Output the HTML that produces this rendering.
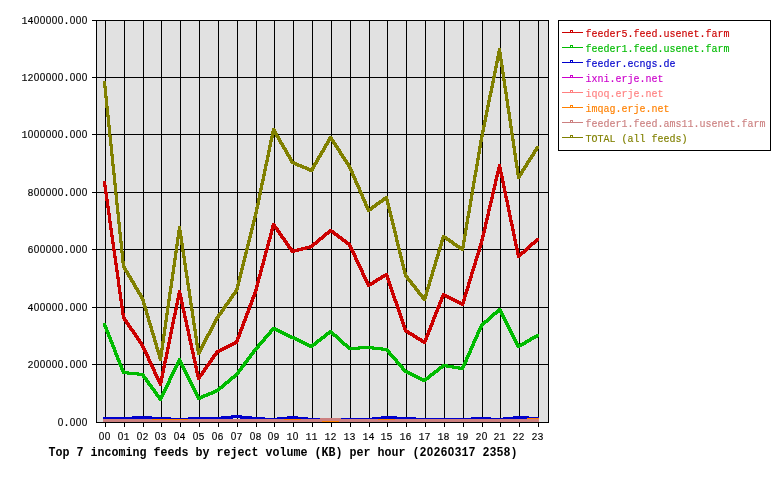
<!DOCTYPE html><html><head><meta charset="utf-8"><title>chart</title><style>html,body{margin:0;padding:0;background:#fff;overflow:hidden}svg{display:block;position:absolute;left:0;top:0;will-change:transform}text{font-family:"Liberation Mono",monospace}</style></head><body>
<svg width="780" height="480" viewBox="0 0 780 480">
<rect x="0" y="0" width="780" height="480" fill="#ffffff"/>
<rect x="96" y="20" width="453" height="403" fill="#e1e1e1"/>
<g fill="#000" shape-rendering="crispEdges">
<rect x="105" y="20" width="1" height="407"/>
<rect x="124" y="20" width="1" height="407"/>
<rect x="143" y="20" width="1" height="407"/>
<rect x="161" y="20" width="1" height="407"/>
<rect x="180" y="20" width="1" height="407"/>
<rect x="199" y="20" width="1" height="407"/>
<rect x="218" y="20" width="1" height="407"/>
<rect x="237" y="20" width="1" height="407"/>
<rect x="256" y="20" width="1" height="407"/>
<rect x="274" y="20" width="1" height="407"/>
<rect x="293" y="20" width="1" height="407"/>
<rect x="312" y="20" width="1" height="407"/>
<rect x="331" y="20" width="1" height="407"/>
<rect x="350" y="20" width="1" height="407"/>
<rect x="369" y="20" width="1" height="407"/>
<rect x="387" y="20" width="1" height="407"/>
<rect x="406" y="20" width="1" height="407"/>
<rect x="425" y="20" width="1" height="407"/>
<rect x="444" y="20" width="1" height="407"/>
<rect x="463" y="20" width="1" height="407"/>
<rect x="482" y="20" width="1" height="407"/>
<rect x="500" y="20" width="1" height="407"/>
<rect x="519" y="20" width="1" height="407"/>
<rect x="538" y="20" width="1" height="407"/>
<rect x="96" y="422" width="453" height="1"/>
<rect x="92" y="364" width="457" height="1"/>
<rect x="92" y="307" width="457" height="1"/>
<rect x="92" y="249" width="457" height="1"/>
<rect x="92" y="192" width="457" height="1"/>
<rect x="92" y="134" width="457" height="1"/>
<rect x="92" y="77" width="457" height="1"/>
<rect x="92" y="20" width="457" height="1"/>
<rect x="96" y="20" width="1" height="403"/><rect x="548" y="20" width="1" height="403"/>
</g>
<path d="M498 164.5h3M498 165.5h3M498 166.5h3M497 167.5h5M497 168.5h5M497 169.5h5M497 170.5h5M496 171.5h6M496 172.5h7M496 173.5h7M496 174.5h3M500 174.5h3M495 175.5h4M500 175.5h3M495 176.5h4M500 176.5h4M495 177.5h3M500 177.5h4M495 178.5h3M501 178.5h3M494 179.5h4M501 179.5h3M494 180.5h4M501 180.5h3M103 181.5h3M494 181.5h3M501 181.5h4M103 182.5h3M494 182.5h3M501 182.5h4M103 183.5h3M494 183.5h3M502 183.5h3M103 184.5h3M493 184.5h4M502 184.5h3M103 185.5h4M493 185.5h4M502 185.5h3M103 186.5h4M493 186.5h3M502 186.5h4M104 187.5h3M493 187.5h3M502 187.5h4M104 188.5h3M492 188.5h4M503 188.5h3M104 189.5h3M492 189.5h4M503 189.5h3M104 190.5h3M492 190.5h3M503 190.5h3M104 191.5h3M492 191.5h3M503 191.5h4M104 192.5h4M491 192.5h4M503 192.5h4M104 193.5h4M491 193.5h4M504 193.5h3M105 194.5h3M491 194.5h3M504 194.5h3M105 195.5h3M491 195.5h3M504 195.5h3M105 196.5h3M491 196.5h3M504 196.5h4M105 197.5h3M490 197.5h4M504 197.5h4M105 198.5h3M490 198.5h4M505 198.5h3M105 199.5h4M490 199.5h3M505 199.5h3M105 200.5h4M490 200.5h3M505 200.5h4M106 201.5h3M489 201.5h4M505 201.5h4M106 202.5h3M489 202.5h4M506 202.5h3M106 203.5h3M489 203.5h3M506 203.5h3M106 204.5h3M489 204.5h3M506 204.5h3M106 205.5h3M488 205.5h4M506 205.5h4M106 206.5h4M488 206.5h4M506 206.5h4M106 207.5h4M488 207.5h3M507 207.5h3M107 208.5h3M488 208.5h3M507 208.5h3M107 209.5h3M487 209.5h4M507 209.5h3M107 210.5h3M487 210.5h4M507 210.5h4M107 211.5h3M487 211.5h3M507 211.5h4M107 212.5h3M487 212.5h3M508 212.5h3M107 213.5h4M487 213.5h3M508 213.5h3M107 214.5h4M486 214.5h4M508 214.5h3M108 215.5h3M486 215.5h4M508 215.5h4M108 216.5h3M486 216.5h3M508 216.5h4M108 217.5h3M486 217.5h3M509 217.5h3M108 218.5h3M485 218.5h4M509 218.5h3M108 219.5h3M485 219.5h4M509 219.5h3M108 220.5h3M485 220.5h3M509 220.5h4M108 221.5h4M485 221.5h3M509 221.5h4M108 222.5h4M484 222.5h4M510 222.5h3M109 223.5h3M272 223.5h3M484 223.5h4M510 223.5h3M109 224.5h3M272 224.5h4M484 224.5h3M510 224.5h4M109 225.5h3M271 225.5h5M484 225.5h3M510 225.5h4M109 226.5h3M271 226.5h6M484 226.5h3M511 226.5h3M109 227.5h3M271 227.5h7M483 227.5h4M511 227.5h3M109 228.5h4M271 228.5h8M483 228.5h4M511 228.5h3M109 229.5h4M270 229.5h4M275 229.5h4M329 229.5h3M483 229.5h3M511 229.5h4M110 230.5h3M270 230.5h4M276 230.5h4M328 230.5h6M483 230.5h3M511 230.5h4M110 231.5h3M270 231.5h3M276 231.5h5M327 231.5h8M482 231.5h4M512 231.5h3M110 232.5h3M270 232.5h3M277 232.5h4M325 232.5h11M482 232.5h4M512 232.5h3M110 233.5h3M269 233.5h4M278 233.5h4M324 233.5h6M332 233.5h6M482 233.5h3M512 233.5h3M110 234.5h3M269 234.5h4M278 234.5h5M323 234.5h6M333 234.5h6M482 234.5h3M512 234.5h4M110 235.5h4M269 235.5h3M279 235.5h4M322 235.5h5M334 235.5h6M481 235.5h4M512 235.5h4M110 236.5h4M269 236.5h3M280 236.5h4M321 236.5h5M336 236.5h6M481 236.5h4M513 236.5h3M111 237.5h3M268 237.5h4M280 237.5h5M319 237.5h6M337 237.5h6M481 237.5h3M513 237.5h3M111 238.5h3M268 238.5h4M281 238.5h5M318 238.5h6M338 238.5h6M481 238.5h3M513 238.5h3M536 238.5h3M111 239.5h3M268 239.5h3M282 239.5h4M317 239.5h6M340 239.5h6M480 239.5h4M513 239.5h4M535 239.5h4M111 240.5h3M267 240.5h4M283 240.5h4M316 240.5h5M341 240.5h6M480 240.5h4M513 240.5h4M534 240.5h5M111 241.5h3M267 241.5h4M283 241.5h5M315 241.5h5M342 241.5h6M480 241.5h3M514 241.5h3M533 241.5h5M111 242.5h4M267 242.5h3M284 242.5h4M313 242.5h6M344 242.5h6M480 242.5h3M514 242.5h3M531 242.5h6M111 243.5h4M267 243.5h3M285 243.5h4M312 243.5h6M345 243.5h6M479 243.5h4M514 243.5h3M530 243.5h6M112 244.5h3M266 244.5h4M285 244.5h5M311 244.5h6M346 244.5h5M479 244.5h4M514 244.5h4M529 244.5h6M112 245.5h3M266 245.5h4M286 245.5h4M309 245.5h6M348 245.5h4M479 245.5h3M514 245.5h4M528 245.5h5M112 246.5h3M266 246.5h3M287 246.5h4M305 246.5h9M348 246.5h4M478 246.5h4M515 246.5h3M527 246.5h5M112 247.5h3M266 247.5h3M287 247.5h5M301 247.5h12M349 247.5h4M478 247.5h4M515 247.5h3M526 247.5h5M112 248.5h3M265 248.5h4M288 248.5h5M297 248.5h14M349 248.5h4M478 248.5h3M515 248.5h4M525 248.5h5M112 249.5h4M265 249.5h4M289 249.5h18M350 249.5h4M478 249.5h3M515 249.5h4M524 249.5h5M112 250.5h4M265 250.5h3M290 250.5h13M350 250.5h4M477 250.5h4M516 250.5h3M523 250.5h5M113 251.5h3M264 251.5h4M290 251.5h9M351 251.5h4M477 251.5h4M516 251.5h3M521 251.5h6M113 252.5h3M264 252.5h4M291 252.5h4M351 252.5h4M477 252.5h3M516 252.5h3M520 252.5h6M113 253.5h3M264 253.5h3M352 253.5h4M476 253.5h4M516 253.5h9M113 254.5h3M264 254.5h3M352 254.5h4M476 254.5h4M516 254.5h7M113 255.5h3M263 255.5h4M353 255.5h4M476 255.5h3M517 255.5h5M113 256.5h4M263 256.5h4M353 256.5h4M475 256.5h4M517 256.5h4M113 257.5h4M263 257.5h3M354 257.5h3M475 257.5h4M517 257.5h3M114 258.5h3M263 258.5h3M354 258.5h4M475 258.5h3M114 259.5h3M262 259.5h4M354 259.5h4M474 259.5h4M114 260.5h3M262 260.5h4M355 260.5h4M474 260.5h4M114 261.5h3M262 261.5h3M355 261.5h4M474 261.5h3M114 262.5h3M262 262.5h3M356 262.5h4M474 262.5h3M114 263.5h4M261 263.5h4M356 263.5h4M473 263.5h4M114 264.5h4M261 264.5h4M357 264.5h4M473 264.5h4M115 265.5h3M261 265.5h3M357 265.5h4M473 265.5h3M115 266.5h3M260 266.5h4M358 266.5h4M472 266.5h4M115 267.5h3M260 267.5h4M358 267.5h4M472 267.5h4M115 268.5h3M260 268.5h3M359 268.5h4M472 268.5h3M115 269.5h3M260 269.5h3M359 269.5h4M471 269.5h4M115 270.5h4M259 270.5h4M360 270.5h4M471 270.5h4M115 271.5h4M259 271.5h4M360 271.5h4M471 271.5h3M116 272.5h3M259 272.5h3M361 272.5h3M470 272.5h4M116 273.5h3M259 273.5h3M361 273.5h4M385 273.5h3M470 273.5h4M116 274.5h3M258 274.5h4M361 274.5h4M383 274.5h5M470 274.5h3M116 275.5h3M258 275.5h4M362 275.5h4M381 275.5h8M470 275.5h3M116 276.5h3M258 276.5h3M362 276.5h4M380 276.5h9M469 276.5h4M116 277.5h4M257 277.5h4M363 277.5h4M378 277.5h7M386 277.5h3M469 277.5h4M116 278.5h4M257 278.5h4M363 278.5h4M376 278.5h7M386 278.5h4M469 278.5h3M117 279.5h3M257 279.5h3M364 279.5h4M375 279.5h7M386 279.5h4M468 279.5h4M117 280.5h3M257 280.5h3M364 280.5h4M373 280.5h7M387 280.5h3M468 280.5h4M117 281.5h3M256 281.5h4M365 281.5h4M372 281.5h6M387 281.5h4M468 281.5h3M117 282.5h3M256 282.5h4M365 282.5h4M370 282.5h7M387 282.5h4M467 282.5h4M117 283.5h3M256 283.5h3M366 283.5h9M388 283.5h3M467 283.5h4M117 284.5h3M256 284.5h3M366 284.5h8M388 284.5h4M467 284.5h3M117 285.5h4M255 285.5h4M367 285.5h5M388 285.5h4M467 285.5h3M117 286.5h4M255 286.5h4M367 286.5h3M389 286.5h3M466 286.5h4M118 287.5h3M255 287.5h3M389 287.5h4M466 287.5h4M118 288.5h3M255 288.5h3M389 288.5h4M466 288.5h3M118 289.5h3M254 289.5h4M390 289.5h3M465 289.5h4M118 290.5h3M178 290.5h3M254 290.5h4M390 290.5h4M465 290.5h4M118 291.5h3M178 291.5h3M254 291.5h3M390 291.5h4M465 291.5h3M118 292.5h4M178 292.5h3M253 292.5h4M391 292.5h3M464 292.5h4M118 293.5h4M177 293.5h5M253 293.5h4M391 293.5h4M442 293.5h3M464 293.5h4M119 294.5h3M177 294.5h5M253 294.5h3M391 294.5h4M442 294.5h5M464 294.5h3M119 295.5h3M177 295.5h5M252 295.5h4M392 295.5h3M441 295.5h8M463 295.5h4M119 296.5h3M177 296.5h5M252 296.5h4M392 296.5h4M441 296.5h10M463 296.5h4M119 297.5h3M177 297.5h6M251 297.5h4M392 297.5h4M440 297.5h4M445 297.5h8M463 297.5h3M119 298.5h3M176 298.5h7M251 298.5h4M393 298.5h3M440 298.5h4M447 298.5h8M463 298.5h3M119 299.5h4M176 299.5h7M251 299.5h3M393 299.5h4M440 299.5h3M449 299.5h8M462 299.5h4M119 300.5h4M176 300.5h3M180 300.5h3M250 300.5h4M393 300.5h4M439 300.5h4M451 300.5h8M462 300.5h4M120 301.5h3M176 301.5h3M180 301.5h3M250 301.5h4M394 301.5h4M439 301.5h4M453 301.5h8M462 301.5h3M120 302.5h3M176 302.5h3M180 302.5h4M250 302.5h3M394 302.5h4M438 302.5h4M455 302.5h10M120 303.5h3M175 303.5h4M180 303.5h4M249 303.5h4M395 303.5h3M438 303.5h4M457 303.5h8M120 304.5h3M175 304.5h4M181 304.5h3M249 304.5h4M395 304.5h4M438 304.5h3M459 304.5h5M120 305.5h3M175 305.5h3M181 305.5h3M248 305.5h4M395 305.5h4M437 305.5h4M461 305.5h3M120 306.5h4M175 306.5h3M181 306.5h3M248 306.5h4M396 306.5h3M437 306.5h4M120 307.5h4M175 307.5h3M181 307.5h4M248 307.5h3M396 307.5h4M436 307.5h4M121 308.5h3M174 308.5h4M181 308.5h4M247 308.5h4M396 308.5h4M436 308.5h4M121 309.5h3M174 309.5h4M182 309.5h3M247 309.5h4M397 309.5h3M436 309.5h3M121 310.5h3M174 310.5h3M182 310.5h3M247 310.5h3M397 310.5h4M435 310.5h4M121 311.5h3M174 311.5h3M182 311.5h4M246 311.5h4M397 311.5h4M435 311.5h4M121 312.5h3M174 312.5h3M182 312.5h4M246 312.5h4M398 312.5h3M434 312.5h4M121 313.5h4M173 313.5h4M183 313.5h3M245 313.5h4M398 313.5h4M434 313.5h4M121 314.5h4M173 314.5h4M183 314.5h3M245 314.5h4M398 314.5h4M434 314.5h3M122 315.5h3M173 315.5h3M183 315.5h3M245 315.5h3M399 315.5h3M433 315.5h4M122 316.5h3M173 316.5h3M183 316.5h4M244 316.5h4M399 316.5h4M433 316.5h4M122 317.5h4M172 317.5h4M183 317.5h4M244 317.5h4M399 317.5h4M432 317.5h4M122 318.5h4M172 318.5h4M184 318.5h3M244 318.5h3M400 318.5h3M432 318.5h4M123 319.5h4M172 319.5h3M184 319.5h3M243 319.5h4M400 319.5h4M432 319.5h3M123 320.5h5M172 320.5h3M184 320.5h4M243 320.5h4M400 320.5h4M431 320.5h4M124 321.5h4M172 321.5h3M184 321.5h4M242 321.5h4M401 321.5h3M431 321.5h4M125 322.5h4M171 322.5h4M185 322.5h3M242 322.5h4M401 322.5h4M431 322.5h3M125 323.5h5M171 323.5h4M185 323.5h3M242 323.5h3M401 323.5h4M430 323.5h4M126 324.5h4M171 324.5h3M185 324.5h3M241 324.5h4M402 324.5h3M430 324.5h4M127 325.5h4M171 325.5h3M185 325.5h4M241 325.5h4M402 325.5h4M429 325.5h4M127 326.5h5M171 326.5h3M185 326.5h4M241 326.5h3M402 326.5h4M429 326.5h4M128 327.5h4M170 327.5h4M186 327.5h3M240 327.5h4M403 327.5h3M429 327.5h3M129 328.5h4M170 328.5h4M186 328.5h3M240 328.5h4M403 328.5h4M428 328.5h4M129 329.5h5M170 329.5h3M186 329.5h4M239 329.5h4M403 329.5h4M428 329.5h4M130 330.5h5M170 330.5h3M186 330.5h4M239 330.5h4M404 330.5h5M427 330.5h4M131 331.5h4M170 331.5h3M187 331.5h3M239 331.5h3M404 331.5h6M427 331.5h4M132 332.5h4M169 332.5h4M187 332.5h3M238 332.5h4M405 332.5h7M427 332.5h3M132 333.5h5M169 333.5h4M187 333.5h3M238 333.5h4M407 333.5h7M426 333.5h4M133 334.5h4M169 334.5h3M187 334.5h4M238 334.5h3M408 334.5h7M426 334.5h4M134 335.5h4M169 335.5h3M187 335.5h4M237 335.5h4M410 335.5h7M425 335.5h4M134 336.5h5M169 336.5h3M188 336.5h3M237 336.5h4M412 336.5h6M425 336.5h4M135 337.5h4M168 337.5h4M188 337.5h3M236 337.5h4M413 337.5h7M425 337.5h3M136 338.5h4M168 338.5h4M188 338.5h3M236 338.5h4M415 338.5h7M424 338.5h4M136 339.5h5M168 339.5h3M188 339.5h4M236 339.5h3M416 339.5h7M424 339.5h4M137 340.5h4M168 340.5h3M188 340.5h4M235 340.5h4M418 340.5h9M138 341.5h4M168 341.5h3M189 341.5h3M234 341.5h5M420 341.5h7M138 342.5h5M167 342.5h4M189 342.5h3M232 342.5h6M421 342.5h5M139 343.5h4M167 343.5h4M189 343.5h4M230 343.5h8M423 343.5h3M140 344.5h4M167 344.5h3M189 344.5h4M228 344.5h8M140 345.5h4M167 345.5h3M190 345.5h3M226 345.5h8M141 346.5h4M167 346.5h3M190 346.5h3M224 346.5h8M141 347.5h4M166 347.5h4M190 347.5h3M222 347.5h8M142 348.5h4M166 348.5h4M190 348.5h4M220 348.5h8M142 349.5h4M166 349.5h3M190 349.5h4M218 349.5h8M143 350.5h4M166 350.5h3M191 350.5h3M216 350.5h8M143 351.5h4M166 351.5h3M191 351.5h3M215 351.5h7M144 352.5h4M165 352.5h4M191 352.5h4M215 352.5h5M144 353.5h4M165 353.5h4M191 353.5h4M214 353.5h4M145 354.5h4M165 354.5h3M192 354.5h3M213 354.5h5M145 355.5h4M165 355.5h3M192 355.5h3M212 355.5h5M146 356.5h4M165 356.5h3M192 356.5h3M212 356.5h4M146 357.5h4M164 357.5h4M192 357.5h4M211 357.5h4M147 358.5h3M164 358.5h4M192 358.5h4M210 358.5h5M147 359.5h4M164 359.5h3M193 359.5h3M210 359.5h4M147 360.5h4M164 360.5h3M193 360.5h3M209 360.5h4M148 361.5h4M163 361.5h4M193 361.5h4M208 361.5h5M148 362.5h4M163 362.5h4M193 362.5h4M208 362.5h4M149 363.5h4M163 363.5h3M194 363.5h3M207 363.5h4M149 364.5h4M163 364.5h3M194 364.5h3M206 364.5h5M150 365.5h4M163 365.5h3M194 365.5h3M205 365.5h5M150 366.5h4M162 366.5h4M194 366.5h4M205 366.5h4M151 367.5h4M162 367.5h4M194 367.5h4M204 367.5h4M151 368.5h4M162 368.5h3M195 368.5h3M203 368.5h5M152 369.5h4M162 369.5h3M195 369.5h3M203 369.5h4M152 370.5h4M162 370.5h3M195 370.5h3M202 370.5h4M153 371.5h3M161 371.5h4M195 371.5h4M201 371.5h5M153 372.5h4M161 372.5h4M195 372.5h4M201 372.5h4M153 373.5h4M161 373.5h3M196 373.5h3M200 373.5h4M154 374.5h4M161 374.5h3M196 374.5h8M154 375.5h4M161 375.5h3M196 375.5h7M155 376.5h4M160 376.5h4M196 376.5h6M155 377.5h4M160 377.5h4M197 377.5h4M156 378.5h7M197 378.5h4M156 379.5h7M197 379.5h3M157 380.5h6M157 381.5h6M158 382.5h5M158 383.5h4M159 384.5h3M159 385.5h3" stroke="#cc0000" stroke-width="1" fill="none" shape-rendering="crispEdges"/>
<path d="M498 308.5h3M497 309.5h5M496 310.5h6M495 311.5h8M493 312.5h10M492 313.5h6M500 313.5h4M491 314.5h6M500 314.5h4M490 315.5h5M501 315.5h4M489 316.5h5M501 316.5h4M488 317.5h5M502 317.5h4M487 318.5h5M502 318.5h4M486 319.5h5M503 319.5h4M484 320.5h6M503 320.5h4M483 321.5h6M504 321.5h4M482 322.5h6M504 322.5h4M103 323.5h3M481 323.5h5M505 323.5h4M103 324.5h3M480 324.5h5M505 324.5h4M103 325.5h4M480 325.5h4M506 325.5h4M103 326.5h4M479 326.5h4M506 326.5h4M104 327.5h4M272 327.5h4M479 327.5h4M507 327.5h4M104 328.5h4M271 328.5h7M478 328.5h4M507 328.5h4M105 329.5h3M270 329.5h10M478 329.5h4M508 329.5h4M105 330.5h4M269 330.5h13M329 330.5h3M477 330.5h4M508 330.5h4M105 331.5h4M269 331.5h4M276 331.5h8M328 331.5h5M477 331.5h4M509 331.5h4M106 332.5h4M268 332.5h4M278 332.5h8M326 332.5h8M476 332.5h4M509 332.5h4M106 333.5h4M267 333.5h5M280 333.5h8M325 333.5h10M476 333.5h4M510 333.5h4M107 334.5h3M266 334.5h5M282 334.5h8M324 334.5h6M331 334.5h6M476 334.5h3M510 334.5h4M536 334.5h3M107 335.5h4M265 335.5h5M284 335.5h8M323 335.5h5M332 335.5h6M475 335.5h4M511 335.5h4M534 335.5h5M107 336.5h4M264 336.5h5M286 336.5h9M321 336.5h6M333 336.5h6M475 336.5h4M511 336.5h4M532 336.5h7M108 337.5h4M263 337.5h5M288 337.5h9M320 337.5h6M335 337.5h5M474 337.5h4M512 337.5h4M530 337.5h8M108 338.5h4M263 338.5h4M290 338.5h9M319 338.5h6M336 338.5h5M474 338.5h4M512 338.5h4M529 338.5h7M109 339.5h3M262 339.5h4M293 339.5h8M317 339.5h6M337 339.5h5M473 339.5h4M513 339.5h4M527 339.5h7M109 340.5h4M261 340.5h5M295 340.5h8M316 340.5h6M338 340.5h5M473 340.5h4M513 340.5h4M525 340.5h7M109 341.5h4M260 341.5h5M297 341.5h8M315 341.5h6M339 341.5h5M472 341.5h4M514 341.5h4M524 341.5h7M110 342.5h4M259 342.5h5M299 342.5h8M314 342.5h5M340 342.5h5M472 342.5h4M514 342.5h4M522 342.5h7M110 343.5h4M258 343.5h5M301 343.5h8M312 343.5h6M341 343.5h6M472 343.5h3M515 343.5h4M520 343.5h7M111 344.5h3M257 344.5h5M303 344.5h14M342 344.5h6M471 344.5h4M515 344.5h11M111 345.5h4M257 345.5h4M305 345.5h11M343 345.5h6M471 345.5h4M516 345.5h8M111 346.5h4M256 346.5h4M307 346.5h7M345 346.5h5M358 346.5h16M470 346.5h4M516 346.5h6M112 347.5h4M255 347.5h5M309 347.5h4M346 347.5h37M470 347.5h4M517 347.5h3M112 348.5h4M254 348.5h5M347 348.5h41M469 348.5h4M113 349.5h3M253 349.5h5M348 349.5h12M372 349.5h17M469 349.5h4M113 350.5h4M252 350.5h5M381 350.5h9M469 350.5h3M113 351.5h4M252 351.5h4M386 351.5h5M468 351.5h4M114 352.5h3M251 352.5h4M387 352.5h4M468 352.5h4M114 353.5h4M250 353.5h5M388 353.5h4M467 353.5h4M114 354.5h4M249 354.5h5M388 354.5h5M467 354.5h4M115 355.5h4M249 355.5h4M389 355.5h5M466 355.5h4M115 356.5h4M248 356.5h4M390 356.5h5M466 356.5h4M116 357.5h3M247 357.5h5M391 357.5h5M465 357.5h4M116 358.5h4M178 358.5h3M246 358.5h5M392 358.5h5M465 358.5h4M116 359.5h4M178 359.5h3M246 359.5h4M393 359.5h5M465 359.5h3M117 360.5h4M177 360.5h5M245 360.5h4M394 360.5h4M464 360.5h4M117 361.5h4M177 361.5h5M244 361.5h5M395 361.5h4M464 361.5h4M118 362.5h3M176 362.5h7M243 362.5h5M395 362.5h5M463 362.5h4M118 363.5h4M176 363.5h7M243 363.5h4M396 363.5h5M463 363.5h4M118 364.5h4M175 364.5h4M180 364.5h4M242 364.5h4M397 364.5h5M442 364.5h6M462 364.5h4M119 365.5h4M175 365.5h4M180 365.5h4M241 365.5h5M398 365.5h5M441 365.5h13M462 365.5h4M119 366.5h4M174 366.5h4M181 366.5h4M240 366.5h5M399 366.5h5M439 366.5h21M461 366.5h4M120 367.5h3M174 367.5h4M181 367.5h4M240 367.5h4M400 367.5h4M438 367.5h6M446 367.5h19M120 368.5h4M173 368.5h4M182 368.5h4M239 368.5h4M401 368.5h4M437 368.5h6M452 368.5h12M120 369.5h4M173 369.5h4M182 369.5h4M238 369.5h5M401 369.5h5M436 369.5h5M458 369.5h6M121 370.5h4M172 370.5h4M183 370.5h4M237 370.5h5M402 370.5h6M434 370.5h6M121 371.5h8M172 371.5h4M183 371.5h4M237 371.5h4M403 371.5h7M433 371.5h6M122 372.5h17M171 372.5h4M184 372.5h4M236 372.5h4M404 372.5h8M432 372.5h6M122 373.5h22M171 373.5h4M184 373.5h4M235 373.5h5M406 373.5h8M430 373.5h6M127 374.5h18M170 374.5h4M185 374.5h4M234 374.5h5M408 374.5h8M429 374.5h6M137 375.5h8M170 375.5h4M185 375.5h4M233 375.5h5M410 375.5h8M428 375.5h6M142 376.5h4M169 376.5h4M186 376.5h4M231 376.5h6M412 376.5h8M427 376.5h5M142 377.5h5M169 377.5h4M186 377.5h4M230 377.5h6M414 377.5h8M425 377.5h6M143 378.5h5M168 378.5h4M187 378.5h4M229 378.5h6M416 378.5h14M144 379.5h4M168 379.5h4M187 379.5h4M228 379.5h5M418 379.5h11M145 380.5h4M168 380.5h3M188 380.5h4M227 380.5h5M420 380.5h7M145 381.5h5M167 381.5h4M188 381.5h4M225 381.5h6M422 381.5h4M146 382.5h4M167 382.5h4M189 382.5h4M224 382.5h6M147 383.5h4M166 383.5h4M189 383.5h4M223 383.5h6M147 384.5h5M166 384.5h4M190 384.5h4M222 384.5h5M148 385.5h5M165 385.5h4M190 385.5h4M221 385.5h5M149 386.5h4M165 386.5h4M191 386.5h4M219 386.5h6M150 387.5h4M164 387.5h4M191 387.5h4M218 387.5h6M150 388.5h5M164 388.5h4M192 388.5h4M217 388.5h6M151 389.5h5M163 389.5h4M192 389.5h4M215 389.5h6M152 390.5h4M163 390.5h4M193 390.5h4M213 390.5h7M153 391.5h4M162 391.5h4M193 391.5h4M211 391.5h8M153 392.5h5M162 392.5h4M194 392.5h4M208 392.5h9M154 393.5h4M161 393.5h4M194 393.5h4M206 393.5h9M155 394.5h4M161 394.5h4M195 394.5h4M203 394.5h10M155 395.5h9M195 395.5h4M201 395.5h9M156 396.5h8M196 396.5h12M157 397.5h6M196 397.5h9M158 398.5h5M197 398.5h6M158 399.5h4M197 399.5h4M159 400.5h3" stroke="#00bb00" stroke-width="1" fill="none" shape-rendering="crispEdges"/>
<path d="M231 415.5h11M132 416.5h20M221 416.5h31M287 416.5h11M381 416.5h16M513 416.5h16M103 417.5h68M188 417.5h77M277 417.5h31M372 417.5h44M471 417.5h20M503 417.5h36M103 418.5h130M240 418.5h80M341 418.5h186" stroke="#0000cc" stroke-width="1" fill="none" shape-rendering="crispEdges"/>
<path d="M527 418.5h12M152 419.5h36M284 419.5h17M378 419.5h17M322 421.5h17" stroke="#ff8000" stroke-width="1" fill="none" shape-rendering="crispEdges"/>
<path d="M320 418.5h21M103 419.5h49M188 419.5h96M301 419.5h77M395 419.5h144M103 420.5h436M103 421.5h219M339 421.5h200M150 422.5h40M282 422.5h21M376 422.5h21" stroke="#cc8080" stroke-width="1" fill="none" shape-rendering="crispEdges"/>
<path d="M498 48.5h3M498 49.5h3M498 50.5h3M497 51.5h4M497 52.5h5M497 53.5h5M497 54.5h5M497 55.5h5M496 56.5h6M496 57.5h6M496 58.5h6M496 59.5h7M496 60.5h7M495 61.5h4M500 61.5h3M495 62.5h4M500 62.5h3M495 63.5h3M500 63.5h3M495 64.5h3M500 64.5h3M495 65.5h3M500 65.5h4M494 66.5h4M500 66.5h4M494 67.5h4M501 67.5h3M494 68.5h3M501 68.5h3M494 69.5h3M501 69.5h3M494 70.5h3M501 70.5h3M493 71.5h4M501 71.5h3M493 72.5h4M501 72.5h4M493 73.5h3M501 73.5h4M493 74.5h3M502 74.5h3M493 75.5h3M502 75.5h3M492 76.5h4M502 76.5h3M492 77.5h4M502 77.5h3M492 78.5h3M502 78.5h3M492 79.5h3M502 79.5h4M492 80.5h3M502 80.5h4M103 81.5h3M491 81.5h4M503 81.5h3M103 82.5h3M491 82.5h4M503 82.5h3M103 83.5h3M491 83.5h3M503 83.5h3M103 84.5h3M491 84.5h3M503 84.5h3M103 85.5h3M491 85.5h3M503 85.5h3M103 86.5h4M490 86.5h4M503 86.5h4M103 87.5h4M490 87.5h4M503 87.5h4M104 88.5h3M490 88.5h3M504 88.5h3M104 89.5h3M490 89.5h3M504 89.5h3M104 90.5h3M490 90.5h3M504 90.5h3M104 91.5h3M489 91.5h4M504 91.5h3M104 92.5h3M489 92.5h4M504 92.5h4M104 93.5h3M489 93.5h3M504 93.5h4M104 94.5h3M489 94.5h3M505 94.5h3M104 95.5h3M488 95.5h4M505 95.5h3M104 96.5h4M488 96.5h4M505 96.5h3M104 97.5h4M488 97.5h3M505 97.5h3M105 98.5h3M488 98.5h3M505 98.5h3M105 99.5h3M488 99.5h3M505 99.5h4M105 100.5h3M487 100.5h4M505 100.5h4M105 101.5h3M487 101.5h4M506 101.5h3M105 102.5h3M487 102.5h3M506 102.5h3M105 103.5h3M487 103.5h3M506 103.5h3M105 104.5h3M487 104.5h3M506 104.5h3M105 105.5h3M486 105.5h4M506 105.5h3M105 106.5h4M486 106.5h4M506 106.5h4M105 107.5h4M486 107.5h3M506 107.5h4M106 108.5h3M486 108.5h3M507 108.5h3M106 109.5h3M486 109.5h3M507 109.5h3M106 110.5h3M485 110.5h4M507 110.5h3M106 111.5h3M485 111.5h4M507 111.5h3M106 112.5h3M485 112.5h3M507 112.5h4M106 113.5h3M485 113.5h3M507 113.5h4M106 114.5h3M485 114.5h3M508 114.5h3M106 115.5h4M484 115.5h4M508 115.5h3M106 116.5h4M484 116.5h4M508 116.5h3M107 117.5h3M484 117.5h3M508 117.5h3M107 118.5h3M484 118.5h3M508 118.5h3M107 119.5h3M484 119.5h3M508 119.5h4M107 120.5h3M483 120.5h4M508 120.5h4M107 121.5h3M483 121.5h4M509 121.5h3M107 122.5h3M483 122.5h3M509 122.5h3M107 123.5h3M483 123.5h3M509 123.5h3M107 124.5h3M483 124.5h3M509 124.5h3M107 125.5h4M482 125.5h4M509 125.5h3M107 126.5h4M482 126.5h4M509 126.5h4M108 127.5h3M482 127.5h3M509 127.5h4M108 128.5h3M272 128.5h3M482 128.5h3M510 128.5h3M108 129.5h3M272 129.5h4M482 129.5h3M510 129.5h3M108 130.5h3M272 130.5h4M481 130.5h4M510 130.5h3M108 131.5h3M271 131.5h6M481 131.5h4M510 131.5h3M108 132.5h3M271 132.5h6M481 132.5h3M510 132.5h3M108 133.5h3M271 133.5h7M481 133.5h3M510 133.5h4M108 134.5h3M271 134.5h7M481 134.5h3M510 134.5h4M108 135.5h4M271 135.5h3M275 135.5h4M480 135.5h4M511 135.5h3M108 136.5h4M270 136.5h4M275 136.5h5M329 136.5h3M480 136.5h4M511 136.5h3M109 137.5h3M270 137.5h4M276 137.5h4M328 137.5h5M480 137.5h3M511 137.5h3M109 138.5h3M270 138.5h3M277 138.5h4M328 138.5h5M480 138.5h3M511 138.5h3M109 139.5h3M270 139.5h3M277 139.5h4M327 139.5h7M480 139.5h3M511 139.5h4M109 140.5h3M269 140.5h4M278 140.5h4M327 140.5h8M479 140.5h4M511 140.5h4M109 141.5h3M269 141.5h4M278 141.5h4M326 141.5h4M331 141.5h4M479 141.5h4M512 141.5h3M109 142.5h3M269 142.5h3M279 142.5h4M326 142.5h4M332 142.5h4M479 142.5h3M512 142.5h3M109 143.5h3M269 143.5h3M279 143.5h5M325 143.5h4M332 143.5h5M479 143.5h3M512 143.5h3M109 144.5h4M269 144.5h3M280 144.5h4M324 144.5h5M333 144.5h4M479 144.5h3M512 144.5h3M109 145.5h4M268 145.5h4M281 145.5h4M324 145.5h4M334 145.5h4M479 145.5h3M512 145.5h3M110 146.5h3M268 146.5h4M281 146.5h4M323 146.5h4M334 146.5h5M478 146.5h4M512 146.5h4M536 146.5h3M110 147.5h3M268 147.5h3M282 147.5h4M323 147.5h4M335 147.5h4M478 147.5h4M512 147.5h4M535 147.5h4M110 148.5h3M268 148.5h3M282 148.5h5M322 148.5h4M336 148.5h4M478 148.5h3M513 148.5h3M535 148.5h4M110 149.5h3M268 149.5h3M283 149.5h4M322 149.5h4M336 149.5h5M478 149.5h3M513 149.5h3M534 149.5h4M110 150.5h3M267 150.5h4M284 150.5h4M321 150.5h4M337 150.5h4M478 150.5h3M513 150.5h3M533 150.5h5M110 151.5h3M267 151.5h4M284 151.5h4M320 151.5h5M338 151.5h4M478 151.5h3M513 151.5h3M533 151.5h4M110 152.5h3M267 152.5h3M285 152.5h4M320 152.5h4M338 152.5h4M477 152.5h4M513 152.5h3M532 152.5h4M110 153.5h3M267 153.5h3M285 153.5h4M319 153.5h4M339 153.5h4M477 153.5h4M513 153.5h4M532 153.5h4M110 154.5h4M267 154.5h3M286 154.5h4M319 154.5h4M339 154.5h5M477 154.5h3M513 154.5h4M531 154.5h4M110 155.5h4M266 155.5h4M286 155.5h5M318 155.5h4M340 155.5h4M477 155.5h3M514 155.5h3M530 155.5h5M111 156.5h3M266 156.5h4M287 156.5h4M317 156.5h5M341 156.5h4M477 156.5h3M514 156.5h3M530 156.5h4M111 157.5h3M266 157.5h3M288 157.5h4M317 157.5h4M341 157.5h5M477 157.5h3M514 157.5h3M529 157.5h4M111 158.5h3M266 158.5h3M288 158.5h4M316 158.5h4M342 158.5h4M476 158.5h4M514 158.5h3M528 158.5h5M111 159.5h3M266 159.5h3M289 159.5h4M316 159.5h4M343 159.5h4M476 159.5h4M514 159.5h3M528 159.5h4M111 160.5h3M265 160.5h4M289 160.5h4M315 160.5h4M343 160.5h5M476 160.5h3M514 160.5h4M527 160.5h4M111 161.5h3M265 161.5h4M290 161.5h5M315 161.5h4M344 161.5h4M476 161.5h3M514 161.5h4M526 161.5h5M111 162.5h3M265 162.5h3M290 162.5h7M314 162.5h4M345 162.5h4M476 162.5h3M515 162.5h3M526 162.5h4M111 163.5h3M265 163.5h3M291 163.5h8M313 163.5h5M345 163.5h5M476 163.5h3M515 163.5h3M525 163.5h4M111 164.5h4M264 164.5h4M293 164.5h9M313 164.5h4M346 164.5h4M475 164.5h4M515 164.5h3M525 164.5h4M111 165.5h4M264 165.5h4M295 165.5h9M312 165.5h4M347 165.5h4M475 165.5h4M515 165.5h3M524 165.5h4M112 166.5h3M264 166.5h3M297 166.5h10M312 166.5h4M347 166.5h4M475 166.5h3M515 166.5h4M523 166.5h5M112 167.5h3M264 167.5h3M300 167.5h9M311 167.5h4M348 167.5h4M475 167.5h3M515 167.5h4M523 167.5h4M112 168.5h3M264 168.5h3M302 168.5h13M348 168.5h4M475 168.5h3M516 168.5h3M522 168.5h4M112 169.5h3M263 169.5h4M305 169.5h9M349 169.5h4M475 169.5h3M516 169.5h3M521 169.5h5M112 170.5h3M263 170.5h4M307 170.5h7M349 170.5h4M474 170.5h4M516 170.5h3M521 170.5h4M112 171.5h3M263 171.5h3M309 171.5h4M350 171.5h4M474 171.5h4M516 171.5h3M520 171.5h4M112 172.5h3M263 172.5h3M350 172.5h4M474 172.5h3M516 172.5h3M520 172.5h4M112 173.5h4M263 173.5h3M351 173.5h3M474 173.5h3M516 173.5h7M112 174.5h4M262 174.5h4M351 174.5h4M474 174.5h3M516 174.5h7M113 175.5h3M262 175.5h4M351 175.5h4M473 175.5h4M517 175.5h5M113 176.5h3M262 176.5h3M352 176.5h4M473 176.5h4M517 176.5h4M113 177.5h3M262 177.5h3M352 177.5h4M473 177.5h3M517 177.5h4M113 178.5h3M262 178.5h3M353 178.5h4M473 178.5h3M517 178.5h3M113 179.5h3M261 179.5h4M353 179.5h4M473 179.5h3M113 180.5h3M261 180.5h4M354 180.5h3M473 180.5h3M113 181.5h3M261 181.5h3M354 181.5h4M472 181.5h4M113 182.5h3M261 182.5h3M354 182.5h4M472 182.5h4M113 183.5h4M260 183.5h4M355 183.5h4M472 183.5h3M113 184.5h4M260 184.5h4M355 184.5h4M472 184.5h3M114 185.5h3M260 185.5h3M356 185.5h4M472 185.5h3M114 186.5h3M260 186.5h3M356 186.5h4M472 186.5h3M114 187.5h3M260 187.5h3M357 187.5h4M471 187.5h4M114 188.5h3M259 188.5h4M357 188.5h4M471 188.5h4M114 189.5h3M259 189.5h4M358 189.5h3M471 189.5h3M114 190.5h3M259 190.5h3M358 190.5h4M471 190.5h3M114 191.5h3M259 191.5h3M358 191.5h4M471 191.5h3M114 192.5h3M259 192.5h3M359 192.5h4M471 192.5h3M114 193.5h4M258 193.5h4M359 193.5h4M470 193.5h4M114 194.5h4M258 194.5h4M360 194.5h4M470 194.5h4M115 195.5h3M258 195.5h3M360 195.5h4M470 195.5h3M115 196.5h3M258 196.5h3M361 196.5h3M385 196.5h3M470 196.5h3M115 197.5h3M258 197.5h3M361 197.5h4M383 197.5h5M470 197.5h3M115 198.5h3M257 198.5h4M361 198.5h4M382 198.5h6M470 198.5h3M115 199.5h3M257 199.5h4M362 199.5h4M381 199.5h8M469 199.5h4M115 200.5h3M257 200.5h3M362 200.5h4M379 200.5h10M469 200.5h4M115 201.5h3M257 201.5h3M363 201.5h4M378 201.5h6M386 201.5h3M469 201.5h3M115 202.5h3M257 202.5h3M363 202.5h4M376 202.5h7M386 202.5h3M469 202.5h3M115 203.5h4M256 203.5h4M364 203.5h3M375 203.5h6M386 203.5h4M469 203.5h3M115 204.5h4M256 204.5h4M364 204.5h4M374 204.5h6M386 204.5h4M469 204.5h3M116 205.5h3M256 205.5h3M364 205.5h4M372 205.5h6M387 205.5h3M468 205.5h4M116 206.5h3M256 206.5h3M365 206.5h4M371 206.5h6M387 206.5h3M468 206.5h4M116 207.5h3M255 207.5h4M365 207.5h4M370 207.5h6M387 207.5h4M468 207.5h3M116 208.5h3M255 208.5h4M366 208.5h8M387 208.5h4M468 208.5h3M116 209.5h3M255 209.5h3M366 209.5h7M388 209.5h3M468 209.5h3M116 210.5h3M255 210.5h3M367 210.5h5M388 210.5h3M468 210.5h3M116 211.5h3M255 211.5h3M367 211.5h3M388 211.5h4M467 211.5h4M116 212.5h4M254 212.5h4M388 212.5h4M467 212.5h4M116 213.5h4M254 213.5h4M389 213.5h3M467 213.5h3M117 214.5h3M254 214.5h3M389 214.5h3M467 214.5h3M117 215.5h3M254 215.5h3M389 215.5h4M467 215.5h3M117 216.5h3M253 216.5h4M389 216.5h4M466 216.5h4M117 217.5h3M253 217.5h4M390 217.5h3M466 217.5h4M117 218.5h3M253 218.5h3M390 218.5h3M466 218.5h3M117 219.5h3M253 219.5h3M390 219.5h4M466 219.5h3M117 220.5h3M252 220.5h4M390 220.5h4M466 220.5h3M117 221.5h3M252 221.5h4M391 221.5h3M466 221.5h3M117 222.5h4M252 222.5h3M391 222.5h3M465 222.5h4M117 223.5h4M252 223.5h3M391 223.5h4M465 223.5h4M118 224.5h3M251 224.5h4M391 224.5h4M465 224.5h3M118 225.5h3M251 225.5h4M392 225.5h3M465 225.5h3M118 226.5h3M178 226.5h3M251 226.5h3M392 226.5h3M465 226.5h3M118 227.5h3M178 227.5h3M251 227.5h3M392 227.5h4M465 227.5h3M118 228.5h3M178 228.5h3M250 228.5h4M392 228.5h4M464 228.5h4M118 229.5h3M178 229.5h3M250 229.5h4M393 229.5h3M464 229.5h4M118 230.5h3M177 230.5h5M250 230.5h3M393 230.5h3M464 230.5h3M118 231.5h3M177 231.5h5M250 231.5h3M393 231.5h4M464 231.5h3M118 232.5h4M177 232.5h5M249 232.5h4M393 232.5h4M464 232.5h3M118 233.5h4M177 233.5h5M249 233.5h4M394 233.5h3M464 233.5h3M119 234.5h3M177 234.5h5M249 234.5h3M394 234.5h3M463 234.5h4M119 235.5h3M177 235.5h5M249 235.5h3M394 235.5h4M442 235.5h3M463 235.5h4M119 236.5h3M177 236.5h6M248 236.5h4M394 236.5h4M442 236.5h5M463 236.5h3M119 237.5h3M176 237.5h7M248 237.5h4M395 237.5h3M441 237.5h7M463 237.5h3M119 238.5h3M176 238.5h7M248 238.5h3M395 238.5h3M441 238.5h9M463 238.5h3M119 239.5h3M176 239.5h3M180 239.5h3M248 239.5h3M395 239.5h3M441 239.5h3M445 239.5h6M463 239.5h3M119 240.5h3M176 240.5h3M180 240.5h3M247 240.5h4M395 240.5h4M440 240.5h4M446 240.5h7M462 240.5h4M119 241.5h4M176 241.5h3M180 241.5h3M247 241.5h4M395 241.5h4M440 241.5h4M448 241.5h6M462 241.5h4M119 242.5h4M176 242.5h3M180 242.5h3M247 242.5h3M396 242.5h3M440 242.5h3M449 242.5h6M462 242.5h3M120 243.5h3M176 243.5h3M180 243.5h4M247 243.5h3M396 243.5h3M440 243.5h3M451 243.5h6M462 243.5h3M120 244.5h3M175 244.5h4M180 244.5h4M246 244.5h4M396 244.5h4M439 244.5h4M452 244.5h6M462 244.5h3M120 245.5h3M175 245.5h4M181 245.5h3M246 245.5h4M396 245.5h4M439 245.5h4M453 245.5h7M462 245.5h3M120 246.5h3M175 246.5h3M181 246.5h3M246 246.5h3M397 246.5h3M439 246.5h3M455 246.5h10M120 247.5h3M175 247.5h3M181 247.5h3M246 247.5h3M397 247.5h3M438 247.5h4M456 247.5h9M120 248.5h3M175 248.5h3M181 248.5h3M245 248.5h4M397 248.5h4M438 248.5h4M458 248.5h6M120 249.5h3M175 249.5h3M181 249.5h3M245 249.5h4M397 249.5h4M438 249.5h3M459 249.5h5M120 250.5h3M175 250.5h3M181 250.5h4M245 250.5h3M398 250.5h3M437 250.5h4M461 250.5h3M120 251.5h4M174 251.5h4M181 251.5h4M245 251.5h3M398 251.5h3M437 251.5h4M120 252.5h4M174 252.5h4M182 252.5h3M244 252.5h4M398 252.5h4M437 252.5h3M121 253.5h3M174 253.5h3M182 253.5h3M244 253.5h4M398 253.5h4M437 253.5h3M121 254.5h3M174 254.5h3M182 254.5h3M244 254.5h3M399 254.5h3M436 254.5h4M121 255.5h3M174 255.5h3M182 255.5h3M244 255.5h3M399 255.5h3M436 255.5h4M121 256.5h3M174 256.5h3M182 256.5h4M243 256.5h4M399 256.5h4M436 256.5h3M121 257.5h3M174 257.5h3M182 257.5h4M243 257.5h4M399 257.5h4M435 257.5h4M121 258.5h3M173 258.5h4M183 258.5h3M243 258.5h3M400 258.5h3M435 258.5h4M121 259.5h3M173 259.5h4M183 259.5h3M243 259.5h3M400 259.5h3M435 259.5h3M121 260.5h3M173 260.5h3M183 260.5h3M242 260.5h4M400 260.5h4M434 260.5h4M121 261.5h4M173 261.5h3M183 261.5h3M242 261.5h4M400 261.5h4M434 261.5h4M121 262.5h4M173 262.5h3M183 262.5h3M242 262.5h3M401 262.5h3M434 262.5h3M122 263.5h3M173 263.5h3M183 263.5h4M242 263.5h3M401 263.5h3M434 263.5h3M122 264.5h3M173 264.5h3M183 264.5h4M241 264.5h4M401 264.5h4M433 264.5h4M122 265.5h3M172 265.5h4M184 265.5h3M241 265.5h4M401 265.5h4M433 265.5h4M122 266.5h4M172 266.5h4M184 266.5h3M241 266.5h3M402 266.5h3M433 266.5h3M122 267.5h4M172 267.5h3M184 267.5h3M241 267.5h3M402 267.5h3M432 267.5h4M123 268.5h4M172 268.5h3M184 268.5h3M240 268.5h4M402 268.5h4M432 268.5h4M123 269.5h4M172 269.5h3M184 269.5h3M240 269.5h4M402 269.5h4M432 269.5h3M124 270.5h4M172 270.5h3M184 270.5h4M240 270.5h3M403 270.5h3M431 270.5h4M124 271.5h5M172 271.5h3M184 271.5h4M240 271.5h3M403 271.5h3M431 271.5h4M125 272.5h4M171 272.5h4M185 272.5h3M239 272.5h4M403 272.5h4M431 272.5h3M126 273.5h4M171 273.5h4M185 273.5h3M239 273.5h4M403 273.5h4M431 273.5h3M126 274.5h4M171 274.5h3M185 274.5h3M239 274.5h3M404 274.5h3M430 274.5h4M127 275.5h4M171 275.5h3M185 275.5h3M239 275.5h3M404 275.5h4M430 275.5h4M127 276.5h5M171 276.5h3M185 276.5h4M238 276.5h4M404 276.5h5M430 276.5h3M128 277.5h4M171 277.5h3M185 277.5h4M238 277.5h4M405 277.5h4M429 277.5h4M129 278.5h4M171 278.5h3M186 278.5h3M238 278.5h3M406 278.5h4M429 278.5h4M129 279.5h4M170 279.5h4M186 279.5h3M238 279.5h3M406 279.5h5M429 279.5h3M130 280.5h4M170 280.5h4M186 280.5h3M237 280.5h4M407 280.5h5M428 280.5h4M130 281.5h5M170 281.5h3M186 281.5h3M237 281.5h4M408 281.5h5M428 281.5h4M131 282.5h4M170 282.5h3M186 282.5h3M237 282.5h3M409 282.5h4M428 282.5h3M132 283.5h4M170 283.5h3M186 283.5h4M237 283.5h3M410 283.5h4M428 283.5h3M132 284.5h4M170 284.5h3M186 284.5h4M236 284.5h4M410 284.5h5M427 284.5h4M133 285.5h4M170 285.5h3M187 285.5h3M236 285.5h4M411 285.5h5M427 285.5h4M133 286.5h4M169 286.5h4M187 286.5h3M236 286.5h3M412 286.5h5M427 286.5h3M134 287.5h4M169 287.5h4M187 287.5h3M236 287.5h3M413 287.5h4M426 287.5h4M134 288.5h5M169 288.5h3M187 288.5h3M235 288.5h4M414 288.5h4M426 288.5h4M135 289.5h4M169 289.5h3M187 289.5h4M235 289.5h4M414 289.5h5M426 289.5h3M136 290.5h4M169 290.5h3M187 290.5h4M234 290.5h4M415 290.5h5M425 290.5h4M136 291.5h4M169 291.5h3M188 291.5h3M234 291.5h4M416 291.5h4M425 291.5h4M137 292.5h4M168 292.5h4M188 292.5h3M233 292.5h4M417 292.5h4M425 292.5h3M137 293.5h5M168 293.5h4M188 293.5h3M232 293.5h5M417 293.5h5M425 293.5h3M138 294.5h4M168 294.5h3M188 294.5h3M231 294.5h5M418 294.5h5M424 294.5h4M139 295.5h4M168 295.5h3M188 295.5h3M231 295.5h4M419 295.5h9M139 296.5h4M168 296.5h3M188 296.5h4M230 296.5h4M420 296.5h7M140 297.5h4M168 297.5h3M188 297.5h4M229 297.5h5M421 297.5h6M140 298.5h4M168 298.5h3M189 298.5h3M229 298.5h4M421 298.5h6M141 299.5h4M167 299.5h4M189 299.5h3M228 299.5h4M422 299.5h4M141 300.5h4M167 300.5h4M189 300.5h3M227 300.5h5M423 300.5h3M142 301.5h3M167 301.5h3M189 301.5h3M227 301.5h4M142 302.5h3M167 302.5h3M189 302.5h3M226 302.5h4M142 303.5h4M167 303.5h3M189 303.5h4M225 303.5h5M142 304.5h4M167 304.5h3M189 304.5h4M224 304.5h5M143 305.5h3M167 305.5h3M190 305.5h3M224 305.5h4M143 306.5h4M166 306.5h4M190 306.5h3M223 306.5h4M143 307.5h4M166 307.5h4M190 307.5h3M222 307.5h5M144 308.5h3M166 308.5h3M190 308.5h3M222 308.5h4M144 309.5h4M166 309.5h3M190 309.5h4M221 309.5h4M144 310.5h4M166 310.5h3M190 310.5h4M220 310.5h5M145 311.5h3M166 311.5h3M191 311.5h3M220 311.5h4M145 312.5h3M166 312.5h3M191 312.5h3M219 312.5h4M145 313.5h4M165 313.5h4M191 313.5h3M218 313.5h5M145 314.5h4M165 314.5h4M191 314.5h3M217 314.5h5M146 315.5h3M165 315.5h3M191 315.5h3M217 315.5h4M146 316.5h4M165 316.5h3M191 316.5h4M216 316.5h4M146 317.5h4M165 317.5h3M191 317.5h4M215 317.5h5M147 318.5h3M165 318.5h3M192 318.5h3M215 318.5h4M147 319.5h3M165 319.5h3M192 319.5h3M214 319.5h4M147 320.5h4M164 320.5h4M192 320.5h3M214 320.5h4M147 321.5h4M164 321.5h4M192 321.5h3M213 321.5h4M148 322.5h3M164 322.5h3M192 322.5h3M213 322.5h4M148 323.5h4M164 323.5h3M192 323.5h4M212 323.5h4M148 324.5h4M164 324.5h3M192 324.5h4M212 324.5h4M149 325.5h3M164 325.5h3M193 325.5h3M211 325.5h4M149 326.5h4M164 326.5h3M193 326.5h3M211 326.5h4M149 327.5h4M163 327.5h4M193 327.5h3M210 327.5h4M150 328.5h3M163 328.5h4M193 328.5h3M210 328.5h4M150 329.5h3M163 329.5h3M193 329.5h4M209 329.5h4M150 330.5h4M163 330.5h3M193 330.5h4M209 330.5h4M150 331.5h4M163 331.5h3M194 331.5h3M208 331.5h4M151 332.5h3M163 332.5h3M194 332.5h3M208 332.5h4M151 333.5h4M163 333.5h3M194 333.5h3M207 333.5h4M151 334.5h4M162 334.5h4M194 334.5h3M206 334.5h5M152 335.5h3M162 335.5h4M194 335.5h3M206 335.5h4M152 336.5h4M162 336.5h3M194 336.5h4M205 336.5h4M152 337.5h4M162 337.5h3M194 337.5h4M205 337.5h4M153 338.5h3M162 338.5h3M195 338.5h3M204 338.5h4M153 339.5h3M162 339.5h3M195 339.5h3M204 339.5h4M153 340.5h4M162 340.5h3M195 340.5h3M203 340.5h4M153 341.5h4M161 341.5h4M195 341.5h3M203 341.5h4M154 342.5h3M161 342.5h4M195 342.5h3M202 342.5h4M154 343.5h4M161 343.5h3M195 343.5h4M202 343.5h4M154 344.5h4M161 344.5h3M195 344.5h4M201 344.5h4M155 345.5h3M161 345.5h3M196 345.5h3M201 345.5h4M155 346.5h3M161 346.5h3M196 346.5h3M200 346.5h4M155 347.5h4M161 347.5h3M196 347.5h3M200 347.5h4M155 348.5h4M160 348.5h4M196 348.5h7M156 349.5h3M160 349.5h4M196 349.5h7M156 350.5h7M196 350.5h6M156 351.5h7M197 351.5h5M157 352.5h6M197 352.5h4M157 353.5h6M197 353.5h4M157 354.5h6M197 354.5h3M158 355.5h5M158 356.5h5M158 357.5h4M158 358.5h4M159 359.5h3M159 360.5h3" stroke="#808000" stroke-width="1" fill="none" shape-rendering="crispEdges"/>
<rect x="96" y="422" width="453" height="1" fill="#000" shape-rendering="crispEdges"/>
<text transform="translate(58,426.2) scale(0.909,1)" x="2.75 9.35 15.95 22.55 29.15" text-anchor="middle" fill="#000" stroke="#000" stroke-width="0.15" font-size="11" font-weight="normal" xml:space="preserve"><tspan font-family="Liberation Sans">0</tspan>.<tspan font-family="Liberation Sans">0</tspan><tspan font-family="Liberation Sans">0</tspan><tspan font-family="Liberation Sans">0</tspan></text>
<text transform="translate(28,368.2) scale(0.909,1)" x="2.75 9.35 15.95 22.55 29.15 35.75 42.35 48.95 55.56 62.16" text-anchor="middle" fill="#000" stroke="#000" stroke-width="0.15" font-size="11" font-weight="normal" xml:space="preserve">2<tspan font-family="Liberation Sans">0</tspan><tspan font-family="Liberation Sans">0</tspan><tspan font-family="Liberation Sans">0</tspan><tspan font-family="Liberation Sans">0</tspan><tspan font-family="Liberation Sans">0</tspan>.<tspan font-family="Liberation Sans">0</tspan><tspan font-family="Liberation Sans">0</tspan><tspan font-family="Liberation Sans">0</tspan></text>
<text transform="translate(28,311.2) scale(0.909,1)" x="2.75 9.35 15.95 22.55 29.15 35.75 42.35 48.95 55.56 62.16" text-anchor="middle" fill="#000" stroke="#000" stroke-width="0.15" font-size="11" font-weight="normal" xml:space="preserve">4<tspan font-family="Liberation Sans">0</tspan><tspan font-family="Liberation Sans">0</tspan><tspan font-family="Liberation Sans">0</tspan><tspan font-family="Liberation Sans">0</tspan><tspan font-family="Liberation Sans">0</tspan>.<tspan font-family="Liberation Sans">0</tspan><tspan font-family="Liberation Sans">0</tspan><tspan font-family="Liberation Sans">0</tspan></text>
<text transform="translate(28,253.2) scale(0.909,1)" x="2.75 9.35 15.95 22.55 29.15 35.75 42.35 48.95 55.56 62.16" text-anchor="middle" fill="#000" stroke="#000" stroke-width="0.15" font-size="11" font-weight="normal" xml:space="preserve">6<tspan font-family="Liberation Sans">0</tspan><tspan font-family="Liberation Sans">0</tspan><tspan font-family="Liberation Sans">0</tspan><tspan font-family="Liberation Sans">0</tspan><tspan font-family="Liberation Sans">0</tspan>.<tspan font-family="Liberation Sans">0</tspan><tspan font-family="Liberation Sans">0</tspan><tspan font-family="Liberation Sans">0</tspan></text>
<text transform="translate(28,196.2) scale(0.909,1)" x="2.75 9.35 15.95 22.55 29.15 35.75 42.35 48.95 55.56 62.16" text-anchor="middle" fill="#000" stroke="#000" stroke-width="0.15" font-size="11" font-weight="normal" xml:space="preserve">8<tspan font-family="Liberation Sans">0</tspan><tspan font-family="Liberation Sans">0</tspan><tspan font-family="Liberation Sans">0</tspan><tspan font-family="Liberation Sans">0</tspan><tspan font-family="Liberation Sans">0</tspan>.<tspan font-family="Liberation Sans">0</tspan><tspan font-family="Liberation Sans">0</tspan><tspan font-family="Liberation Sans">0</tspan></text>
<text transform="translate(22,138.2) scale(0.909,1)" x="2.75 9.35 15.95 22.55 29.15 35.75 42.35 48.95 55.56 62.16 68.76" text-anchor="middle" fill="#000" stroke="#000" stroke-width="0.15" font-size="11" font-weight="normal" xml:space="preserve">1<tspan font-family="Liberation Sans">0</tspan><tspan font-family="Liberation Sans">0</tspan><tspan font-family="Liberation Sans">0</tspan><tspan font-family="Liberation Sans">0</tspan><tspan font-family="Liberation Sans">0</tspan><tspan font-family="Liberation Sans">0</tspan>.<tspan font-family="Liberation Sans">0</tspan><tspan font-family="Liberation Sans">0</tspan><tspan font-family="Liberation Sans">0</tspan></text>
<text transform="translate(22,81.2) scale(0.909,1)" x="2.75 9.35 15.95 22.55 29.15 35.75 42.35 48.95 55.56 62.16 68.76" text-anchor="middle" fill="#000" stroke="#000" stroke-width="0.15" font-size="11" font-weight="normal" xml:space="preserve">12<tspan font-family="Liberation Sans">0</tspan><tspan font-family="Liberation Sans">0</tspan><tspan font-family="Liberation Sans">0</tspan><tspan font-family="Liberation Sans">0</tspan><tspan font-family="Liberation Sans">0</tspan>.<tspan font-family="Liberation Sans">0</tspan><tspan font-family="Liberation Sans">0</tspan><tspan font-family="Liberation Sans">0</tspan></text>
<text transform="translate(22,24.2) scale(0.909,1)" x="2.75 9.35 15.95 22.55 29.15 35.75 42.35 48.95 55.56 62.16 68.76" text-anchor="middle" fill="#000" stroke="#000" stroke-width="0.15" font-size="11" font-weight="normal" xml:space="preserve">14<tspan font-family="Liberation Sans">0</tspan><tspan font-family="Liberation Sans">0</tspan><tspan font-family="Liberation Sans">0</tspan><tspan font-family="Liberation Sans">0</tspan><tspan font-family="Liberation Sans">0</tspan>.<tspan font-family="Liberation Sans">0</tspan><tspan font-family="Liberation Sans">0</tspan><tspan font-family="Liberation Sans">0</tspan></text>
<text transform="translate(99.0,440) scale(0.909,1)" x="2.75 9.35" text-anchor="middle" fill="#000" stroke="#000" stroke-width="0.15" font-size="11" font-weight="normal" xml:space="preserve"><tspan font-family="Liberation Sans">0</tspan><tspan font-family="Liberation Sans">0</tspan></text>
<text transform="translate(118.0,440) scale(0.909,1)" x="2.75 9.35" text-anchor="middle" fill="#000" stroke="#000" stroke-width="0.15" font-size="11" font-weight="normal" xml:space="preserve"><tspan font-family="Liberation Sans">0</tspan>1</text>
<text transform="translate(137.0,440) scale(0.909,1)" x="2.75 9.35" text-anchor="middle" fill="#000" stroke="#000" stroke-width="0.15" font-size="11" font-weight="normal" xml:space="preserve"><tspan font-family="Liberation Sans">0</tspan>2</text>
<text transform="translate(155.0,440) scale(0.909,1)" x="2.75 9.35" text-anchor="middle" fill="#000" stroke="#000" stroke-width="0.15" font-size="11" font-weight="normal" xml:space="preserve"><tspan font-family="Liberation Sans">0</tspan>3</text>
<text transform="translate(174.0,440) scale(0.909,1)" x="2.75 9.35" text-anchor="middle" fill="#000" stroke="#000" stroke-width="0.15" font-size="11" font-weight="normal" xml:space="preserve"><tspan font-family="Liberation Sans">0</tspan>4</text>
<text transform="translate(193.0,440) scale(0.909,1)" x="2.75 9.35" text-anchor="middle" fill="#000" stroke="#000" stroke-width="0.15" font-size="11" font-weight="normal" xml:space="preserve"><tspan font-family="Liberation Sans">0</tspan>5</text>
<text transform="translate(212.0,440) scale(0.909,1)" x="2.75 9.35" text-anchor="middle" fill="#000" stroke="#000" stroke-width="0.15" font-size="11" font-weight="normal" xml:space="preserve"><tspan font-family="Liberation Sans">0</tspan>6</text>
<text transform="translate(231.0,440) scale(0.909,1)" x="2.75 9.35" text-anchor="middle" fill="#000" stroke="#000" stroke-width="0.15" font-size="11" font-weight="normal" xml:space="preserve"><tspan font-family="Liberation Sans">0</tspan>7</text>
<text transform="translate(250.0,440) scale(0.909,1)" x="2.75 9.35" text-anchor="middle" fill="#000" stroke="#000" stroke-width="0.15" font-size="11" font-weight="normal" xml:space="preserve"><tspan font-family="Liberation Sans">0</tspan>8</text>
<text transform="translate(268.0,440) scale(0.909,1)" x="2.75 9.35" text-anchor="middle" fill="#000" stroke="#000" stroke-width="0.15" font-size="11" font-weight="normal" xml:space="preserve"><tspan font-family="Liberation Sans">0</tspan>9</text>
<text transform="translate(287.0,440) scale(0.909,1)" x="2.75 9.35" text-anchor="middle" fill="#000" stroke="#000" stroke-width="0.15" font-size="11" font-weight="normal" xml:space="preserve">1<tspan font-family="Liberation Sans">0</tspan></text>
<text transform="translate(306.0,440) scale(0.909,1)" x="2.75 9.35" text-anchor="middle" fill="#000" stroke="#000" stroke-width="0.15" font-size="11" font-weight="normal" xml:space="preserve">11</text>
<text transform="translate(325.0,440) scale(0.909,1)" x="2.75 9.35" text-anchor="middle" fill="#000" stroke="#000" stroke-width="0.15" font-size="11" font-weight="normal" xml:space="preserve">12</text>
<text transform="translate(344.0,440) scale(0.909,1)" x="2.75 9.35" text-anchor="middle" fill="#000" stroke="#000" stroke-width="0.15" font-size="11" font-weight="normal" xml:space="preserve">13</text>
<text transform="translate(363.0,440) scale(0.909,1)" x="2.75 9.35" text-anchor="middle" fill="#000" stroke="#000" stroke-width="0.15" font-size="11" font-weight="normal" xml:space="preserve">14</text>
<text transform="translate(381.0,440) scale(0.909,1)" x="2.75 9.35" text-anchor="middle" fill="#000" stroke="#000" stroke-width="0.15" font-size="11" font-weight="normal" xml:space="preserve">15</text>
<text transform="translate(400.0,440) scale(0.909,1)" x="2.75 9.35" text-anchor="middle" fill="#000" stroke="#000" stroke-width="0.15" font-size="11" font-weight="normal" xml:space="preserve">16</text>
<text transform="translate(419.0,440) scale(0.909,1)" x="2.75 9.35" text-anchor="middle" fill="#000" stroke="#000" stroke-width="0.15" font-size="11" font-weight="normal" xml:space="preserve">17</text>
<text transform="translate(438.0,440) scale(0.909,1)" x="2.75 9.35" text-anchor="middle" fill="#000" stroke="#000" stroke-width="0.15" font-size="11" font-weight="normal" xml:space="preserve">18</text>
<text transform="translate(457.0,440) scale(0.909,1)" x="2.75 9.35" text-anchor="middle" fill="#000" stroke="#000" stroke-width="0.15" font-size="11" font-weight="normal" xml:space="preserve">19</text>
<text transform="translate(476.0,440) scale(0.909,1)" x="2.75 9.35" text-anchor="middle" fill="#000" stroke="#000" stroke-width="0.15" font-size="11" font-weight="normal" xml:space="preserve">2<tspan font-family="Liberation Sans">0</tspan></text>
<text transform="translate(494.0,440) scale(0.909,1)" x="2.75 9.35" text-anchor="middle" fill="#000" stroke="#000" stroke-width="0.15" font-size="11" font-weight="normal" xml:space="preserve">21</text>
<text transform="translate(513.0,440) scale(0.909,1)" x="2.75 9.35" text-anchor="middle" fill="#000" stroke="#000" stroke-width="0.15" font-size="11" font-weight="normal" xml:space="preserve">22</text>
<text transform="translate(532.0,440) scale(0.909,1)" x="2.75 9.35" text-anchor="middle" fill="#000" stroke="#000" stroke-width="0.15" font-size="11" font-weight="normal" xml:space="preserve">23</text>
<text transform="translate(49,455.6) scale(0.8641975308641976,1)" x="3.47 11.57 19.67 27.77 35.87 43.97 52.07 60.17 68.27 76.37 84.47 92.57 100.67 108.77 116.87 124.97 133.07 141.17 149.27 157.37 165.47 173.57 181.67 189.77 197.87 205.97 214.07 222.17 230.27 238.37 246.47 254.57 262.67 270.77 278.87 286.97 295.07 303.17 311.27 319.37 327.47 335.57 343.67 351.77 359.87 367.97 376.07 384.17 392.27 400.37 408.47 416.57 424.67 432.77 440.87 448.97 457.07 465.17 473.27 481.37 489.47 497.57 505.67 513.77 521.87 529.97 538.07" text-anchor="middle" fill="#000" font-size="13.5" font-weight="bold" xml:space="preserve">Top 7 incoming feeds by reject volume (KB) per hour (2<tspan font-family="Liberation Sans">0</tspan>26<tspan font-family="Liberation Sans">0</tspan>317 2358)</text>
<rect x="558.5" y="20.5" width="212" height="130" fill="#fff" stroke="#000" stroke-width="1" shape-rendering="crispEdges"/>
<g shape-rendering="crispEdges"><rect x="562" y="32" width="21" height="1" fill="#cc0000"/><rect x="570.5" y="30.5" width="2" height="2" fill="#fff" stroke="#cc0000" stroke-width="1"/></g>
<text transform="translate(586,36.5) scale(0.909,1)" x="2.75 9.35 15.95 22.55 29.15 35.75 42.35 48.95 55.56 62.16 68.76 75.36 81.96 88.56 95.16 101.76 108.36 114.96 121.56 128.16 134.76 141.36 147.96 154.57" text-anchor="middle" fill="#cc0000" stroke="#cc0000" stroke-width="0.15" font-size="11" font-weight="normal" xml:space="preserve">feeder5.feed.usenet.farm</text>
<g shape-rendering="crispEdges"><rect x="562" y="47" width="21" height="1" fill="#00bb00"/><rect x="570.5" y="45.5" width="2" height="2" fill="#fff" stroke="#00bb00" stroke-width="1"/></g>
<text transform="translate(586,51.5) scale(0.909,1)" x="2.75 9.35 15.95 22.55 29.15 35.75 42.35 48.95 55.56 62.16 68.76 75.36 81.96 88.56 95.16 101.76 108.36 114.96 121.56 128.16 134.76 141.36 147.96 154.57" text-anchor="middle" fill="#00bb00" stroke="#00bb00" stroke-width="0.15" font-size="11" font-weight="normal" xml:space="preserve">feeder1.feed.usenet.farm</text>
<g shape-rendering="crispEdges"><rect x="562" y="62" width="21" height="1" fill="#0000cc"/><rect x="570.5" y="60.5" width="2" height="2" fill="#fff" stroke="#0000cc" stroke-width="1"/></g>
<text transform="translate(586,66.5) scale(0.909,1)" x="2.75 9.35 15.95 22.55 29.15 35.75 42.35 48.95 55.56 62.16 68.76 75.36 81.96 88.56 95.16" text-anchor="middle" fill="#0000cc" stroke="#0000cc" stroke-width="0.15" font-size="11" font-weight="normal" xml:space="preserve">feeder.ecngs.de</text>
<g shape-rendering="crispEdges"><rect x="562" y="77" width="21" height="1" fill="#cc00cc"/><rect x="570.5" y="75.5" width="2" height="2" fill="#fff" stroke="#cc00cc" stroke-width="1"/></g>
<text transform="translate(586,81.5) scale(0.909,1)" x="2.75 9.35 15.95 22.55 29.15 35.75 42.35 48.95 55.56 62.16 68.76 75.36 81.96" text-anchor="middle" fill="#cc00cc" stroke="#cc00cc" stroke-width="0.15" font-size="11" font-weight="normal" xml:space="preserve">ixni.erje.net</text>
<g shape-rendering="crispEdges"><rect x="562" y="92" width="21" height="1" fill="#ff8080"/><rect x="570.5" y="90.5" width="2" height="2" fill="#fff" stroke="#ff8080" stroke-width="1"/></g>
<text transform="translate(586,96.5) scale(0.909,1)" x="2.75 9.35 15.95 22.55 29.15 35.75 42.35 48.95 55.56 62.16 68.76 75.36 81.96" text-anchor="middle" fill="#ff8080" stroke="#ff8080" stroke-width="0.15" font-size="11" font-weight="normal" xml:space="preserve">iqoq.erje.net</text>
<g shape-rendering="crispEdges"><rect x="562" y="107" width="21" height="1" fill="#ff8000"/><rect x="570.5" y="105.5" width="2" height="2" fill="#fff" stroke="#ff8000" stroke-width="1"/></g>
<text transform="translate(586,111.5) scale(0.909,1)" x="2.75 9.35 15.95 22.55 29.15 35.75 42.35 48.95 55.56 62.16 68.76 75.36 81.96 88.56" text-anchor="middle" fill="#ff8000" stroke="#ff8000" stroke-width="0.15" font-size="11" font-weight="normal" xml:space="preserve">imqag.erje.net</text>
<g shape-rendering="crispEdges"><rect x="562" y="122" width="21" height="1" fill="#cc8080"/><rect x="570.5" y="120.5" width="2" height="2" fill="#fff" stroke="#cc8080" stroke-width="1"/></g>
<text transform="translate(586,126.5) scale(0.909,1)" x="2.75 9.35 15.95 22.55 29.15 35.75 42.35 48.95 55.56 62.16 68.76 75.36 81.96 88.56 95.16 101.76 108.36 114.96 121.56 128.16 134.76 141.36 147.96 154.57 161.17 167.77 174.37 180.97 187.57 194.17" text-anchor="middle" fill="#cc8080" stroke="#cc8080" stroke-width="0.15" font-size="11" font-weight="normal" xml:space="preserve">feeder1.feed.ams11.usenet.farm</text>
<g shape-rendering="crispEdges"><rect x="562" y="137" width="21" height="1" fill="#808000"/><rect x="570.5" y="135.5" width="2" height="2" fill="#fff" stroke="#808000" stroke-width="1"/></g>
<text transform="translate(586,141.5) scale(0.909,1)" x="2.75 9.35 15.95 22.55 29.15 35.75 42.35 48.95 55.56 62.16 68.76 75.36 81.96 88.56 95.16 101.76 108.36" text-anchor="middle" fill="#808000" stroke="#808000" stroke-width="0.15" font-size="11" font-weight="normal" xml:space="preserve">TOTAL (all feeds)</text>
</svg></body></html>
